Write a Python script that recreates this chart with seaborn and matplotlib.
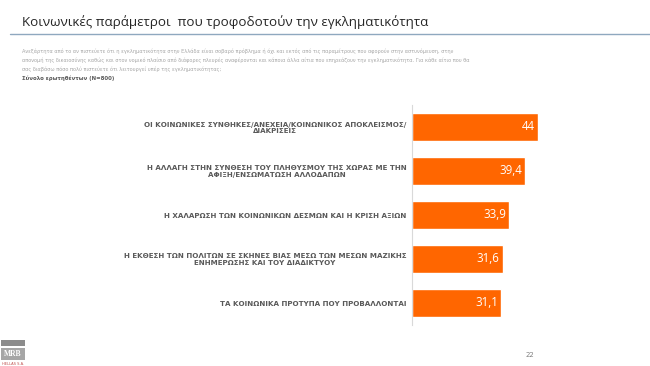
import matplotlib
matplotlib.use("Agg")
import matplotlib.pyplot as plt
import seaborn as sns
import pandas as pd
from matplotlib.patches import Rectangle
from matplotlib.lines import Line2D

categories = [
    "ΟΙ ΚΟΙΝΩΝΙΚΕΣ ΣΥΝΘΗΚΕΣ/ΑΝΕΧΕΙΑ/ΚΟΙΝΩΝΙΚΟΣ ΑΠΟΚΛΕΙΣΜΟΣ/\nΔΙΑΚΡΙΣΕΙΣ",
    "Η ΑΛΛΑΓΗ ΣΤΗΝ ΣΥΝΘΕΣΗ ΤΟΥ ΠΛΗΘΥΣΜΟΥ ΤΗΣ ΧΩΡΑΣ ΜΕ ΤΗΝ\nΑΦΙΞΗ/ΕΝΣΩΜΑΤΩΣΗ ΑΛΛΟΔΑΠΩΝ",
    "Η ΧΑΛΑΡΩΣΗ ΤΩΝ ΚΟΙΝΩΝΙΚΩΝ ΔΕΣΜΩΝ ΚΑΙ Η ΚΡΙΣΗ ΑΞΙΩΝ",
    "Η ΕΚΘΕΣΗ ΤΩΝ ΠΟΛΙΤΩΝ ΣΕ ΣΚΗΝΕΣ ΒΙΑΣ ΜΕΣΩ ΤΩΝ ΜΕΣΩΝ ΜΑΖΙΚΗΣ\nΕΝΗΜΕΡΩΣΗΣ ΚΑΙ ΤΟΥ ΔΙΑΔΙΚΤΥΟΥ",
    "ΤΑ ΚΟΙΝΩΝΙΚΑ ΠΡΟΤΥΠΑ ΠΟΥ ΠΡΟΒΑΛΛΟΝΤΑΙ",
]
values = [44, 39.4, 33.9, 31.6, 31.1]
value_labels = ["44", "39,4", "33,9", "31,6", "31,1"]

title = "Κοινωνικές παράμετροι  που τροφοδοτούν την εγκληματικότητα"
subtitle_lines = [
    "Ανεξάρτητα από το αν πιστεύετε ότι η εγκληματικότητα στην Ελλάδα είναι σοβαρό πρόβλημα ή όχι και εκτός από τις παραμέτρους που αφορούν στην αστυνόμευση, στην",
    "απονομή της δικαιοσύνης καθώς και στον νομικό πλαίσιο από διάφορες πλευρές αναφέρονται και κάποια άλλα αίτια που επηρεάζουν την εγκληματικότητα. Για κάθε αίτιο που θα",
    "σας διαβάσω πόσο πολύ πιστεύετε ότι λειτουργεί υπέρ της εγκληματικότητας;",
]
base_line = "Σύνολο ερωτηθέντων (N=800)"
page_no = "22"

sns.set_theme(style="white")
plt.rcParams["font.family"] = ["DejaVu Sans"]

W, H = 650, 366
fig = plt.figure(figsize=(6.5, 3.66), dpi=100)
fig.patch.set_facecolor("white")

ax = fig.add_axes([412 / W, 1 - 325 / H, 188 / W, 220 / H])
df = pd.DataFrame({"cat": categories, "val": values})
sns.barplot(data=df, x="val", y="cat", orient="h", color="#FF6600",
            saturation=1, width=0.64, ax=ax)
ax.set_xlim(0, 188 / 2.864)
ax.set_xlabel("")
ax.set_ylabel("")
ax.set_xticks([])
for s in ["top", "right", "bottom"]:
    ax.spines[s].set_visible(False)
ax.spines["left"].set_color("#d9d9d9")
ax.spines["left"].set_linewidth(0.8)
ax.tick_params(axis="y", length=0, pad=4)
for lbl in ax.get_yticklabels():
    lbl.set_fontsize(5.1)
    lbl.set_fontweight("bold")
    lbl.set_color("#595959")
    lbl.set_multialignment("center")
    lbl.set_linespacing(1.05)
for p, t in zip(ax.patches, value_labels):
    ax.text(p.get_width() - 1.0, p.get_y() + p.get_height() / 2, t,
            ha="right", va="center", color="white", fontsize=8.3,
            family="Open Sans")

# title and underline
fig.text(22 / W, 1 - 22 / H, title, fontsize=9.6, color="#262626",
         family="Open Sans", va="center", ha="left")
fig.add_artist(Line2D([10 / W, 1.0], [1 - 34 / H, 1 - 34 / H],
                      color="#8FA8BF", lw=1.0, transform=fig.transFigure))

for i, line in enumerate(subtitle_lines):
    fig.text(22 / W, 1 - (51 + 9 * i) / H, line, fontsize=3.6,
             color="#a6a6a6", va="center", ha="left")
fig.text(22 / W, 1 - 78 / H, base_line, fontsize=3.9, color="#595959",
         fontweight="bold", va="center", ha="left")

fig.text(530 / W, 1 - 355 / H, page_no, fontsize=5, color="#808080",
         ha="center", va="center")

# logo
fig.add_artist(Rectangle((1 / W, 1 - 346 / H), 24 / W, 6 / H,
                         transform=fig.transFigure, color="#8c8c8c", lw=0))
fig.add_artist(Rectangle((1 / W, 1 - 360 / H), 24 / W, 12 / H,
                         transform=fig.transFigure, color="#a6a6a6", lw=0))
fig.text(13 / W, 1 - 354 / H, "MRB", fontsize=5.5, color="white",
         fontweight="bold", family="Liberation Serif", ha="center", va="center")
fig.text(13 / W, 1 - 364 / H, "HELLAS S.A.", fontsize=2.6, color="#c0504d",
         ha="center", va="center")

fig.savefig("out.png", dpi=100, facecolor="white")
